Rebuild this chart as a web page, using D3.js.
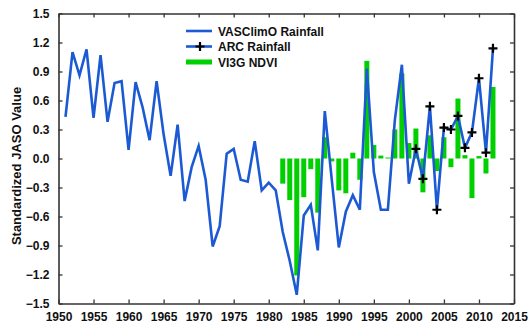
<!DOCTYPE html>
<html>
<head>
<meta charset="utf-8">
<script src="https://cdn.jsdelivr.net/npm/d3@7"></script>
<style>
  body { margin: 0; background: #fff; }
  text { font-family: "Liberation Sans", Arial, sans-serif; font-weight: bold; fill: #111; }
</style>
</head>
<body>
<svg width="529" height="333"></svg>
<script>
// VASClimO rainfall 1951-2000
var vasYears = d3.range(1951, 2001);
var vasValues = [0.43, 1.10, 0.86, 1.13, 0.42, 1.07, 0.38, 0.78, 0.80, 0.09,
                 0.79, 0.53, 0.19, 0.80, 0.25, -0.18, 0.35, -0.44, -0.09, 0.13,
                 -0.22, -0.91, -0.70, 0.05, 0.10, -0.22, -0.24, 0.18, -0.33, -0.25,
                 -0.33, -0.76, -1.06, -1.41, -0.59, -0.48, -0.95, 0.49, -0.22, -0.92,
                 -0.55, -0.38, -0.53, 0.93, -0.14, -0.53, -0.53, 0.40, 0.97, -0.26];

// ARC rainfall 2001-2012
var arcYears = d3.range(2001, 2013);
var arcValues = [0.10, -0.21, 0.54, -0.53, 0.32, 0.30, 0.44, 0.11, 0.27, 0.83, 0.06, 1.14];

// VI3G NDVI 1982-2012
var ndviYears = d3.range(1982, 2013);
var ndviValues = [-0.26, -0.43, -1.21, -0.40, -0.11, -0.56, 0.22, -0.03, -0.33, -0.36,
                  0.06, -0.22, 1.01, 0.14, 0.03, 0.01, 0.30, 0.88, 0.16, 0.31,
                  -0.35, 0.24, -0.13, 0.22, -0.09, 0.62, 0.035, -0.41, 0.025, -0.155, 0.74];

var xTicks = d3.range(1950, 2016, 5);
var yTicks = [-1.5, -1.2, -0.9, -0.6, -0.3, 0, 0.3, 0.6, 0.9, 1.2, 1.5];

var svg = d3.select("svg"),
    margin = {top: 13.5, right: 15, bottom: 29.5, left: 58.5},
    width = +svg.attr("width") - margin.left - margin.right,
    height = +svg.attr("height") - margin.top - margin.bottom,
    g = svg.append("g").attr("transform", "translate(" + margin.left + "," + margin.top + ")");

var blue = "#1c5ad4", green = "#00d000";

var x = d3.scaleLinear().domain([1950, 2015]).range([0, width]);
var y = d3.scaleLinear().domain([-1.5, 1.5]).range([height, 0]);

// NDVI bars
var barW = 5;
g.selectAll(".bar")
  .data(ndviYears.map(function(yr, i) { return {year: yr, v: ndviValues[i]}; }))
  .enter().append("rect")
    .attr("class", "bar")
    .attr("x", function(d) { return x(d.year) - barW / 2; })
    .attr("y", function(d) { return y(Math.max(0, d.v)); })
    .attr("width", barW)
    .attr("height", function(d) { return Math.abs(y(d.v) - y(0)); })
    .attr("fill", green);

// rainfall line (VASClimO then ARC)
var vas = vasYears.map(function(yr, i) { return {year: yr, v: vasValues[i]}; });
var arc = arcYears.map(function(yr, i) { return {year: yr, v: arcValues[i]}; });

var line = d3.line()
    .x(function(d) { return x(d.year); })
    .y(function(d) { return y(d.v); });

g.append("path")
  .datum(vas.concat(arc))
  .attr("fill", "none")
  .attr("stroke", blue)
  .attr("stroke-width", 2.6)
  .attr("stroke-linejoin", "miter")
  .attr("d", line);

// ARC markers
var plus = d3.symbol().type(d3.symbolCross).size(0);
g.selectAll(".mk")
  .data(arc)
  .enter().append("path")
    .attr("class", "mk")
    .attr("transform", function(d) { return "translate(" + x(d.year) + "," + y(d.v) + ")"; })
    .attr("d", "M-4.5,0H4.5M0,-4.5V4.5")
    .attr("stroke", "#000")
    .attr("stroke-width", 2.2);

// axes, ticks inward on all sides
var axStyle = function(sel) {
  sel.select(".domain").attr("stroke", "#333").attr("stroke-width", 1.6);
  sel.selectAll(".tick line").attr("stroke", "#333").attr("stroke-width", 1.3);
  sel.selectAll("text").style("font-size", "12px").attr("fill", "#111");
};

g.append("g")
  .attr("transform", "translate(0," + height + ")")
  .call(d3.axisBottom(x).tickValues(xTicks).tickFormat(d3.format("d")).tickSizeInner(-4).tickSizeOuter(0).tickPadding(9))
  .call(axStyle);

g.append("g")
  .call(d3.axisTop(x).tickValues(xTicks).tickFormat("").tickSizeInner(-4).tickSizeOuter(0))
  .call(axStyle);

g.append("g")
  .call(d3.axisLeft(y).tickValues(yTicks).tickFormat(d3.format(".1f")).tickSizeInner(-4).tickSizeOuter(0).tickPadding(9))
  .call(axStyle);

g.append("g")
  .attr("transform", "translate(" + width + ",0)")
  .call(d3.axisRight(y).tickValues(yTicks).tickFormat("").tickSizeInner(-4).tickSizeOuter(0))
  .call(axStyle);

svg.selectAll(".tick text").attr("font-family", null);
g.selectAll("g").attr("font-family", null);

// y axis title
svg.append("text")
  .attr("transform", "translate(21," + 166 + ") rotate(-90)")
  .attr("text-anchor", "middle")
  .style("font-size", "13px")
  .text("Standardized JASO Value");

// legend
var legend = svg.append("g").attr("transform", "translate(186,31)");
var items = ["VASClimO Rainfall", "ARC Rainfall", "VI3G NDVI"];
items.forEach(function(name, i) {
  var row = legend.append("g").attr("transform", "translate(0," + (i * 15.5) + ")");
  if (i < 2) {
    row.append("line").attr("x1", 0).attr("x2", 26).attr("y1", 0).attr("y2", 0)
      .attr("stroke", blue).attr("stroke-width", 2.6);
  } else {
    row.append("line").attr("x1", 0).attr("x2", 26).attr("y1", 0).attr("y2", 0)
      .attr("stroke", green).attr("stroke-width", 5);
  }
  if (i == 1) {
    row.append("path").attr("transform", "translate(14,0)")
      .attr("d", "M-4.5,0H4.5M0,-4.5V4.5")
      .attr("stroke", "#000").attr("stroke-width", 2.2);
  }
  row.append("text").attr("x", 32).attr("y", 4.5)
    .style("font-size", "12px")
    .text(name);
});
</script>
</body>
</html>
